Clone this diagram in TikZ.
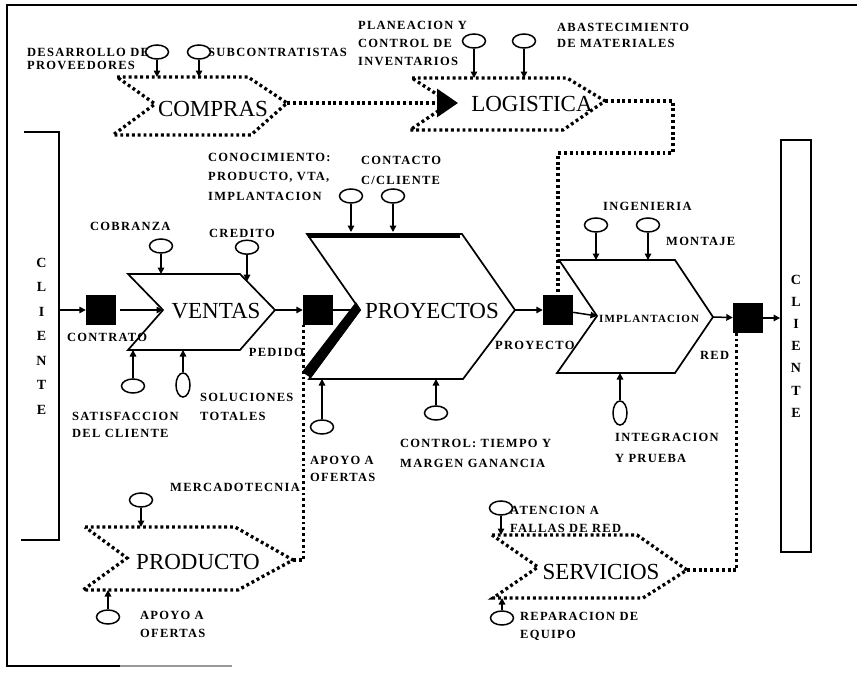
\documentclass[tikz,border=0pt]{standalone}
\usepackage{fontspec}
\setmainfont{Liberation Serif}
\newfontfamily\lblfont{Liberation Serif}[LetterSpace=10]
\usetikzlibrary{shapes.geometric,arrows.meta,calc}
\tikzset{
  lbl/.style={font=\lblfont\bfseries\fontsize{12.5}{#1}\selectfont, inner sep=0pt, align=left, anchor=west},
  lbl/.default=18,
  big/.style={font=\fontsize{23}{25}\selectfont, inner sep=0pt},
  cli/.style={font=\bfseries\fontsize{14}{#1}\selectfont, align=center, inner sep=0pt},
  oval/.style={draw, ellipse, line width=1.5pt, minimum width=23pt, minimum height=14pt, inner sep=0pt},
  voval/.style={draw, ellipse, line width=1.5pt, minimum width=14pt, minimum height=24pt, inner sep=0pt},
  blk/.style={fill=black, minimum size=30pt, inner sep=0pt},
  chev/.style={draw, line width=1.7pt},
  dline/.style={line width=3.3pt, dash pattern=on 2.9pt off 2.9pt},
  arr/.style={line width=1.5pt, -{Triangle[length=6.5pt,width=6.5pt]}},
  frm/.style={line width=1.8pt},
}
\begin{document}
\begin{tikzpicture}[x=1pt,y=-1pt]
\useasboundingbox (0,0) rectangle (857,680);
% frame
\draw[frm] (857,5) -- (7,5) -- (7,666) -- (120,666);
\draw[frm, black!40] (120,666) -- (232,666);

% client boxes
\node[cli=24.5, minimum width=35pt, minimum height=408pt] (boxL) at (41.5,336) {C\\L\\I\\E\\N\\T\\E};
\draw[frm] (boxL.north west) -- (boxL.north east) -- (boxL.south east) -- ([xshift=-3pt]boxL.south west);
\node[cli=22.2, draw, line width=1.8pt, minimum width=30pt, minimum height=412pt] (boxR) at (796,346) {C\\L\\I\\E\\N\\T\\E};

% black squares
\node[blk] (s1) at (101,310) {};
\node[blk] (s2) at (318,310) {};
\node[blk] (s3) at (558,310) {};
\node[blk] (s4) at (748,318) {};

% VENTAS
\coordinate (vtl) at (128,274); \coordinate (vtr) at (240,274); \coordinate (vtip) at (275,310);
\coordinate (vbr) at (240,350); \coordinate (vbl) at (128,350); \coordinate (vn) at (163,310);
\draw[chev] (vtl) -- (vtr) -- (vtip) -- (vbr) -- (vbl) -- (vn) -- cycle;
\node[big] (tv) at (216,311) {VENTAS};

% PROYECTOS
\coordinate (ytl) at (307,234); \coordinate (ytr) at (462,234); \coordinate (ytip) at (515,310);
\coordinate (ybr) at (463,379); \coordinate (ybl) at (309,379); \coordinate (yn) at (360,310);
\draw[chev] (ytl) -- (ytr) -- (ytip) -- (ybr) -- (ybl) -- (yn) -- cycle;
\draw[line width=5pt] (308,235) -- (460,235);
\fill (356,302) -- (361,310) -- (311,378) -- (302,372) -- cycle;
\node[big] (ty) at (432,311) {PROYECTOS};

% IMPLANTACION
\coordinate (itl) at (559,260); \coordinate (itr) at (675,260); \coordinate (itip) at (713,317);
\coordinate (ibr) at (675,373); \coordinate (ibl) at (557,373); \coordinate (in) at (597,316);
\draw[chev] (itl) -- (itr) -- (itip) -- (ibr) -- (ibl) -- (in) -- cycle;
\node[font=\lblfont\bfseries\fontsize{11}{12}\selectfont, inner sep=0pt, anchor=west] (ti) at (599,319) {IMPLANTACION};

% COMPRAS (dotted)
\coordinate (ctl) at (117,77); \coordinate (ctr) at (248,77); \coordinate (ctip) at (287,103);
\coordinate (cbr) at (251,135); \coordinate (cbl) at (113,135); \coordinate (cn) at (155,104);
\draw[dline] (ctl) -- (ctr) -- (ctip) -- (cbr) -- (cbl) -- (cn) -- cycle;
\node[big] (tc) at (213,109) {COMPRAS};

% LOGISTICA (dotted)
\coordinate (ltl) at (412,78); \coordinate (ltr) at (567,78); \coordinate (ltip) at (605,101);
\coordinate (lbr) at (563,130); \coordinate (lbl) at (410,130); \coordinate (ln) at (450,103);
\draw[dline] (ltl) -- (ltr) -- (ltip) -- (lbr) -- (lbl) -- (ln) -- cycle;
\node[big] (tl) at (532,104) {LOGISTICA};

% PRODUCTO (dotted)
\coordinate (dtl) at (85,527); \coordinate (dtr) at (235,527); \coordinate (dtip) at (293,560);
\coordinate (dbr) at (238,590); \coordinate (dbl) at (83,590); \coordinate (dn) at (127,558);
\draw[dline] (dtl) -- (dtr) -- (dtip) -- (dbr) -- (dbl) -- (dn) -- cycle;
\node[big] (td) at (198,562) {PRODUCTO};

% SERVICIOS (dotted)
\coordinate (stl) at (492,535); \coordinate (str) at (637,535); \coordinate (stip) at (687,570);
\coordinate (sbr) at (643,598); \coordinate (sbl) at (493,598); \coordinate (sn) at (538,567);
\draw[dline] (stl) -- (str) -- (stip) -- (sbr) -- (sbl) -- (sn) -- cycle;
\node[big] (ts) at (601,572) {SERVICIOS};

% main flow arrows
\draw[arr] (boxL.east |- s1) -- (s1);
\draw[arr, shorten <=4pt] (s1) -- (vn);
\draw[arr] (vtip) -- (s2);
\draw[arr] (s2) -- (yn);
\draw[arr] (ytip) -- (s3);
\draw[arr] (s3) -- (in);
\draw[arr] (itip) -- (s4);
\draw[arr] (s4) -- (s4 -| boxR.west);

% dotted connections
\coordinate (larr) at (458,103);
\draw[dline, -{Triangle[length=21pt,width=28pt]}] (ctip) -- (larr);
\coordinate (lc1) at (673,153);
\draw[dline] (ltip) -| (lc1) -| (s3.north);
\draw[dline] (dtip) -| ([xshift=1pt]s2.south west);
\draw[dline] (stip) -| ([xshift=4pt]s4.south west);

% ovals: COMPRAS
\node[oval] (oDes) at (157,52) {};
\node[oval] (oSub) at (199,52) {};
\draw[arr] (oDes) -- (oDes |- ctl);
\draw[arr] (oSub) -- (oSub |- ctl);
% LOGISTICA
\node[oval] (oPla) at (474,41) {};
\node[oval] (oAba) at (524,41) {};
\draw[arr] (oPla) -- (oPla |- ltl);
\draw[arr] (oAba) -- (oAba |- ltl);
% VENTAS
\node[oval] (oCob) at (161,246) {};
\draw[arr] (oCob) -- (oCob |- vtl);
\coordinate (cre) at ($(vtr)!0.2!(vtip)$);
\node[oval] (oCre) at ($(cre)+(0,-34)$) {};
\draw[arr] (oCre) -- (cre);
\node[oval] (oSat) at (133,386) {};
\draw[arr] (oSat) -- (oSat |- vbl);
\node[voval] (oSol) at (183,385) {};
\draw[arr] (oSol) -- (oSol |- vbl);
% PROYECTOS
\node[oval] (oCon) at (351,196) {};
\node[oval] (oCtc) at (393,196) {};
\coordinate (ytop) at (330,232);
\draw[arr] (oCon) -- (oCon |- ytop);
\draw[arr] (oCtc) -- (oCtc |- ytop);
\node[oval] (oApy) at (322,427) {};
\draw[arr] (oApy) -- (oApy |- ybl);
\node[oval] (oCtl) at (436,413) {};
\draw[arr] (oCtl) -- (oCtl |- ybl);
% IMPLANTACION
\node[oval] (oIng) at (596,225) {};
\node[oval] (oMon) at (648,225) {};
\draw[arr] (oIng) -- (oIng |- itl);
\draw[arr] (oMon) -- (oMon |- itl);
\node[voval] (oInt) at (620,413) {};
\draw[arr] (oInt) -- (oInt |- ibl);
% PRODUCTO
\node[oval] (oMer) at (141,500) {};
\draw[arr] (oMer) -- (oMer |- dtl);
\node[oval] (oApo2) at (108,617) {};
\draw[arr] (oApo2) -- (oApo2 |- dbl);
% SERVICIOS
\node[oval] (oAte) at (501,508) {};
\draw[arr] (oAte) -- (oAte |- stl);
\node[oval] (oRep) at (502,618) {};
\draw[arr] (oRep) -- (oRep |- sbl);

% labels
\node[lbl=13] (lDes) at (27,58.5) {DESARROLLO DE\\PROVEEDORES};
\node[lbl] (lSub) at (208,52) {SUBCONTRATISTAS};
\node[lbl] (lPla) at (358,43) {PLANEACION Y\\CONTROL DE\\INVENTARIOS};
\node[lbl=16] (lAba) at (557,35) {ABASTECIMIENTO\\DE MATERIALES};
\node[lbl=19.5] (lCon) at (208,176.5) {CONOCIMIENTO:\\PRODUCTO, VTA,\\IMPLANTACION};
\node[lbl=20] (lCtc) at (361,170) {CONTACTO\\C/CLIENTE};
\node[lbl] (lCob) at (90,226) {COBRANZA};
\node[lbl] (lCre) at (209,233) {CREDITO};
\node[lbl] (lCtr) at (67,337) {CONTRATO};
\node[lbl, anchor=east] (lPed) at (304,352) {PEDIDO};
\node[lbl=17] (lSat) at (72,424.5) {SATISFACCION\\DEL CLIENTE};
\node[lbl=19] (lSol) at (200,406.5) {SOLUCIONES\\TOTALES};
\node[lbl=17] (lApy) at (310,468.5) {APOYO A\\OFERTAS};
\node[lbl=20] (lCtl) at (400,453) {CONTROL: TIEMPO Y\\MARGEN GANANCIA};
\node[lbl] (lPry) at (495,345) {PROYECTO};
\node[lbl] (lIng) at (603,206) {INGENIERIA};
\node[lbl] (lMon) at (666,241) {MONTAJE};
\node[lbl] (lRed) at (700,355) {RED};
\node[lbl=21] (lInt) at (615,447.5) {INTEGRACION\\Y PRUEBA};
\node[lbl] (lMer) at (170,487) {MERCADOTECNIA};
\node[lbl] (lApo2) at (140,624) {APOYO A\\OFERTAS};
\node[lbl] (lAte) at (510,519) {ATENCION A\\FALLAS DE RED};
\node[lbl] (lRep) at (520,626) {REPARACION DE\\EQUIPO};
\end{tikzpicture}
\end{document}
